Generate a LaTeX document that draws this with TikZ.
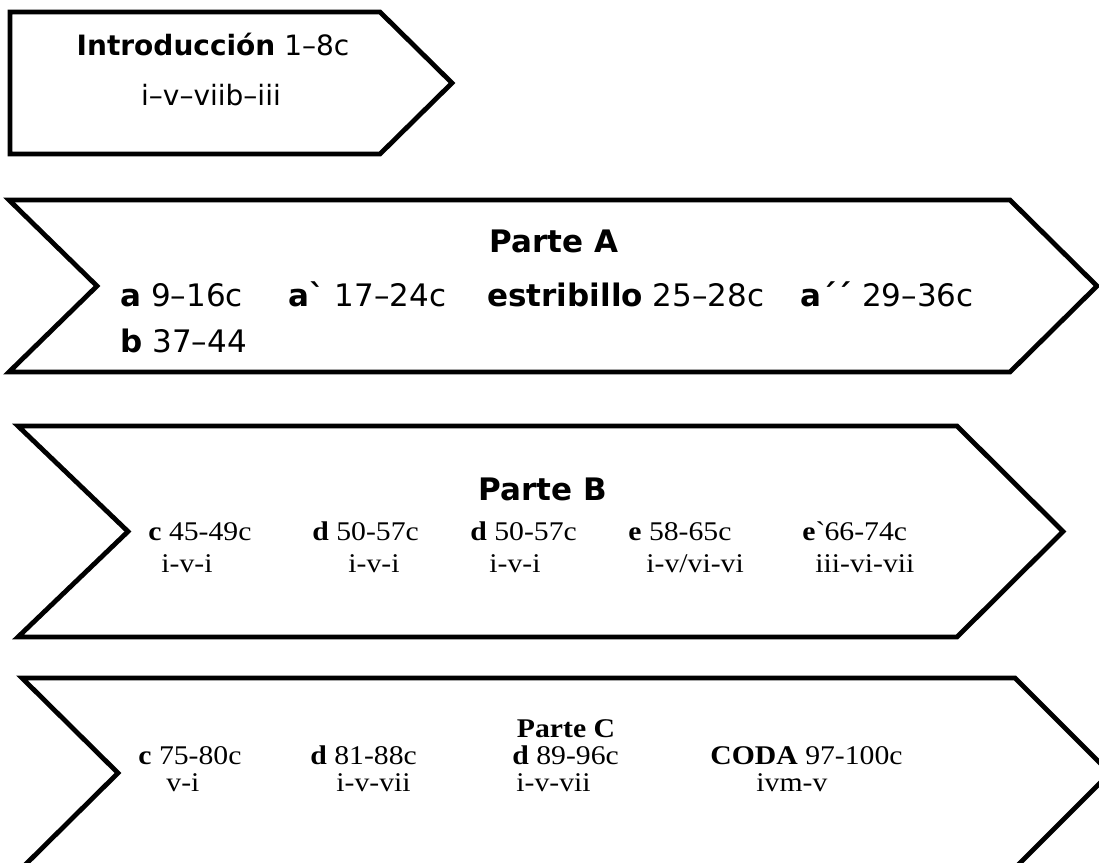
\documentclass[tikz,border=0pt]{standalone}
\usepackage{fontspec}
\setmainfont{Liberation Serif}[FakeStretch=1.1]
\setsansfont{DejaVu Sans}
\usepackage{tikz}
\usetikzlibrary{positioning}

\tikzset{
  outline/.style={line width=2.4pt, line join=miter},
  sanstxt/.style={font=\sffamily\fontsize{15.5}{18}\selectfont, inner sep=0pt, anchor=base west},
  introtxt/.style={font=\sffamily\fontsize{14}{17}\selectfont, inner sep=0pt, anchor=base},
  sertxt/.style={font=\rmfamily\fontsize{13.5}{16}\selectfont, inner sep=0pt, anchor=base west},
  titletxt/.style={inner sep=0pt, anchor=base}
}

\begin{document}
\begin{tikzpicture}[x=0.5pt,y=-0.5pt]
  \fill[white] (0,0) rectangle (1099,863);
  \clip (0,0) rectangle (1099,863);

  % Introduccion
  \draw[outline] (10,12) -- (380,12) -- (452,83) -- (380,154) -- (10,154) -- cycle;
  \node[introtxt] (intro) at (213,55) {\textbf{Introducción} 1–8c};
  \node[introtxt] (introarm) at (211,105) {i–v–viib–iii};

  % chevrons: top/bottom/left/notch/right/tip
  \foreach \yt/\yb/\xl/\xn/\xr/\xt in {200/372/9/97/1010/1097, 426/637/18/128/957/1063, 678/868/22/118/1015/1110}{
    \draw[outline] (\xl,\yt) -- (\xr,\yt) -- (\xt,{(\yt+\yb)/2}) -- (\xr,\yb)
      -- (\xl,\yb) -- (\xn,{(\yt+\yb)/2}) -- cycle;
  }

  % Parte A
  \node[sanstxt, titletxt] (titleA) at (554,252) {\textbf{Parte A}};
  \node[sanstxt] (aA) at (120,306) {\textbf{a} 9–16c};
  \node[sanstxt] (abA) at (288,306) {\textbf{a\textasciigrave} 17–24c};
  \node[sanstxt] (estr) at (487,306) {\textbf{estribillo} 25–28c};
  \node[sanstxt] (aaA) at (800,306) {\textbf{a´´} 29–36c};
  \node[sanstxt] (bA) at (120,352) {\textbf{b} 37–44};

  % Parte B
  \node[sanstxt, titletxt] (titleB) at (543,500) {\textbf{Parte B}};
  \foreach \x/\nm/\lab in {148/cB/{\textbf{c} 45-49c}, 312/dB/{\textbf{d} 50-57c},
      470/ddB/{\textbf{d} 50-57c}, 628/eB/{\textbf{e} 58-65c}, 802/eeB/{\textbf{e}\textasciigrave66-74c}}{
    \node[sertxt] (\nm) at (\x,540) {\lab};
  }
  \foreach \x/\nm/\lab in {161/cBh/{i-v-i}, 348/dBh/{i-v-i}, 489/ddBh/{i-v-i},
      646/eBh/{i-v/vi-vi}, 815/eeBh/{iii-vi-vii}}{
    \node[sertxt] (\nm) at (\x,572) {\lab};
  }

  % Parte C
  \node[sertxt, titletxt] (titleC) at (566,737) {\textbf{Parte C}};
  \foreach \x/\nm/\lab in {138/cC/{\textbf{c} 75-80c}, 310/dC/{\textbf{d} 81-88c},
      512/ddC/{\textbf{d} 89-96c}, 710/coda/{\textbf{CODA} 97-100c}}{
    \node[sertxt] (\nm) at (\x,764) {\lab};
  }
  \foreach \x/\nm/\lab in {166/cCh/{v-i}, 336/dCh/{i-v-vii},
      516/ddCh/{i-v-vii}, 756/codah/{ivm-v}}{
    \node[sertxt] (\nm) at (\x,791) {\lab};
  }
\end{tikzpicture}
\end{document}
